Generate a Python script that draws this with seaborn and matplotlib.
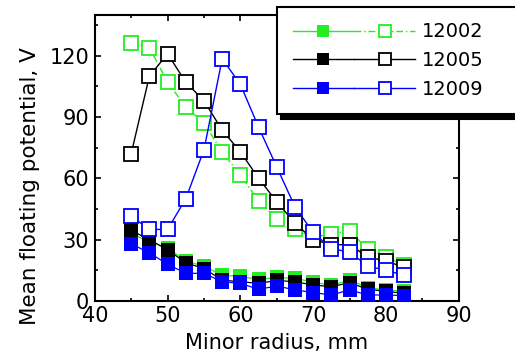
import numpy as np
import pandas as pd
import seaborn as sns
from matplotlib import pyplot as plt
from matplotlib.lines import Line2D
from matplotlib.legend_handler import HandlerTuple
from matplotlib.ticker import MultipleLocator

radius = [45, 47.5, 50, 52.5, 55, 57.5, 60, 62.5, 65, 67.5, 70, 72.5, 75, 77.5, 80, 82.5]

# open squares
open_12002 = [126, 124, 107, 95, 87, 73, 61.5, 49, 40, 35, 31, 33, 34, 25.5, 21.5, 17.5]
open_12005 = [72, 110, 121, 107, 98, 83.5, 73, 60, 48.5, 38, 30, 27.5, 27.5, 21.5, 19.5, 16.5]
open_12009 = [41.5, 35, 35, 50, 74, 118.5, 106, 85, 65.5, 46, 33.5, 25.5, 24, 17, 15, 12.5]

# filled squares
fill_12002 = [33, 29, 26, 19.5, 17, 12.5, 12, 10.5, 11.5, 11, 9.3, 7.6, 10.2, 6.5, 5.4, 4.7]
fill_12005 = [34.5, 30, 25, 18.7, 15.8, 10.2, 9.4, 8.6, 10, 9.4, 7.8, 7, 8.9, 5.7, 4.7, 3.7]
fill_12009 = [28, 23.5, 18, 13.5, 13.5, 9.4, 8.6, 5.7, 7.3, 5.4, 4.1, 2.9, 5.4, 2.9, 2.9, 2.6]

shots = ["12002", "12005", "12009"]
colors = {"12002": "#22ee22", "12005": "black", "12009": "#0000ff"}
open_styles = {"12002": (0, (5, 2, 1, 2)), "12005": "-", "12009": "-"}

plt.rcParams["font.family"] = ["DejaVu Sans"]

fig = plt.figure(figsize=(5.15, 3.63), dpi=100)
ax = fig.add_axes([0.184, 0.171, 0.707, 0.788])

open_vals = {"12002": open_12002, "12005": open_12005, "12009": open_12009}
fill_vals = {"12002": fill_12002, "12005": fill_12005, "12009": fill_12009}

for s in shots:
    df = pd.DataFrame({"r": radius, "v": fill_vals[s]})
    sns.lineplot(data=df, x="r", y="v", ax=ax, color=colors[s], lw=0.9,
                 marker="s", markersize=9.5, markeredgewidth=0,
                 markerfacecolor=colors[s], zorder=3)

for s in shots:
    df = pd.DataFrame({"r": radius, "v": open_vals[s]})
    sns.lineplot(data=df, x="r", y="v", ax=ax, color=colors[s], lw=1.0,
                 linestyle=open_styles[s], marker="s", markersize=9.5,
                 markeredgewidth=1.3, markeredgecolor=colors[s],
                 markerfacecolor="white", zorder=4)

ax.set_xlim(40, 90)
ax.set_ylim(0, 140)
ax.xaxis.set_major_locator(MultipleLocator(10))
ax.xaxis.set_minor_locator(MultipleLocator(5))
ax.yaxis.set_major_locator(MultipleLocator(30))
ax.yaxis.set_minor_locator(MultipleLocator(15))
ax.tick_params(which="both", direction="in", top=True, right=True,
               labelsize=15, width=1.2, pad=4)
ax.tick_params(which="major", length=4)
ax.tick_params(which="minor", length=2.2)
for sp in ax.spines.values():
    sp.set_linewidth(1.5)
ax.set_xlabel("Minor radius, mm", fontsize=15, labelpad=5)
ax.set_ylabel("Mean floating potential, V", fontsize=15.5)
ax.yaxis.set_label_coords(-0.15, 0.40)

handles = []
for s in shots:
    h1 = Line2D([], [], color=colors[s], lw=1.0, marker="s", markersize=9,
                markeredgewidth=0, markerfacecolor=colors[s])
    h2 = Line2D([], [], color=colors[s], lw=1.0, linestyle=open_styles[s],
                marker="s", markersize=9, markeredgewidth=1.3,
                markerfacecolor="white")
    handles.append((h1, h2))

leg = ax.legend(handles, shots, handler_map={tuple: HandlerTuple(ndivide=None, pad=0)},
                loc="upper left", bbox_to_anchor=(0.538, 0.69, 0.49, 0.291),
                bbox_transform=fig.transFigure, mode="expand", borderaxespad=0,
                fontsize=14, handlelength=6.3,
                handletextpad=0.35, labelspacing=0.5, borderpad=0.8,
                fancybox=False, framealpha=1, edgecolor="black",
                shadow={"color": "black", "alpha": 1, "ox": 3, "oy": -3})
leg.get_frame().set_linewidth(1.5)
leg.set_zorder(10)

fig.savefig("out.png", dpi=100)
